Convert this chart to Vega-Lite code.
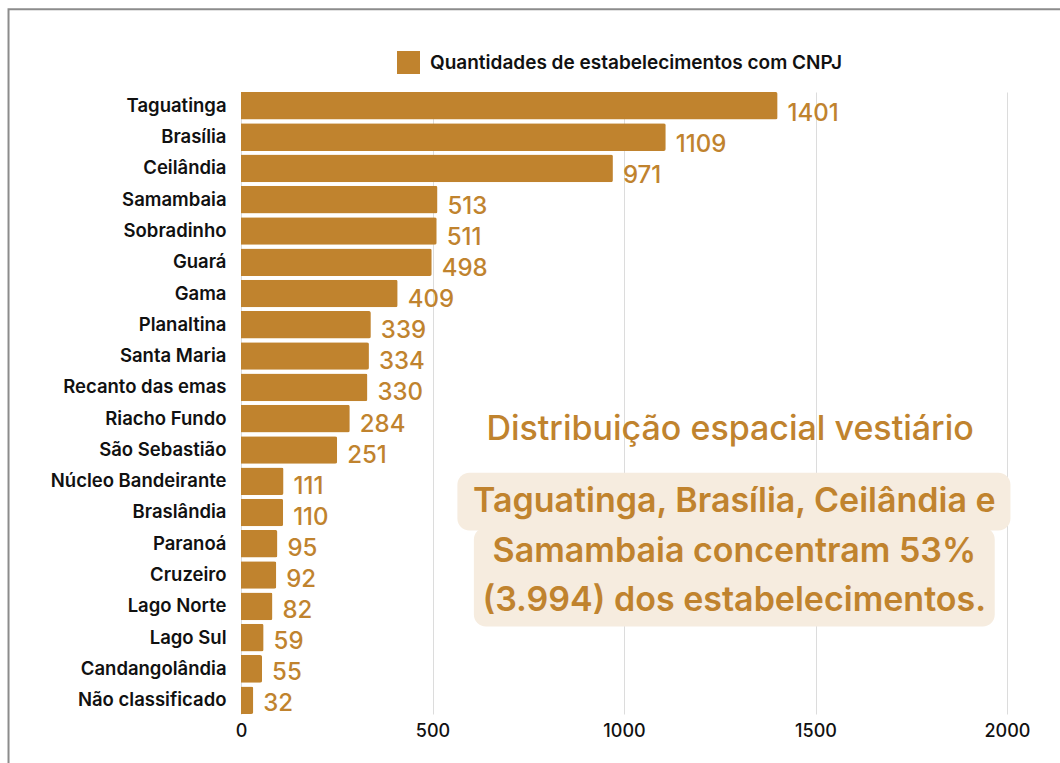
{
  "$schema": "https://vega.github.io/schema/vega-lite/v6.json",
  "width": 766,
  "height": 622,
  "autosize": {"type": "none"},
  "padding": {"left": 241, "top": 92, "right": 53, "bottom": 49},
  "background": "white",
  "config": {
    "view": {"stroke": null},
    "font": "Inter",
    "axisX": {"grid": true, "gridColor": "#dcdcdc", "gridWidth": 1, "domain": false, "ticks": false, "labelFontSize": 18, "labelFontWeight": 500, "labelColor": "#111111", "labelPadding": 8, "labelFlush": false, "tickCount": 5, "format": "d", "title": null},
    "axisY": {"grid": false, "domain": false, "ticks": false, "labelFontSize": 18.5, "labelFontWeight": 600, "labelColor": "#111111", "labelPadding": 15, "labelLimit": 300, "title": null}
  },
  "datasets": {
    "bars": [
      {"regiao": "Taguatinga", "qtd": 1401},
      {"regiao": "Brasília", "qtd": 1109},
      {"regiao": "Ceilândia", "qtd": 971},
      {"regiao": "Samambaia", "qtd": 513},
      {"regiao": "Sobradinho", "qtd": 511},
      {"regiao": "Guará", "qtd": 498},
      {"regiao": "Gama", "qtd": 409},
      {"regiao": "Planaltina", "qtd": 339},
      {"regiao": "Santa Maria", "qtd": 334},
      {"regiao": "Recanto das emas", "qtd": 330},
      {"regiao": "Riacho Fundo", "qtd": 284},
      {"regiao": "São Sebastião", "qtd": 251},
      {"regiao": "Núcleo Bandeirante", "qtd": 111},
      {"regiao": "Braslândia", "qtd": 110},
      {"regiao": "Paranoá", "qtd": 95},
      {"regiao": "Cruzeiro", "qtd": 92},
      {"regiao": "Lago Norte", "qtd": 82},
      {"regiao": "Lago Sul", "qtd": 59},
      {"regiao": "Candangolândia", "qtd": 55},
      {"regiao": "Não classificado", "qtd": 32}
    ],
    "boxes": [
      {"x": 565, "x2": 2009, "y": 12.24, "y2": 14.1},
      {"x": 608, "x2": 1968, "y": 14.0, "y2": 17.19}
    ],
    "titulo": [
      {"x": 1277, "y": 11.19, "texto": "Distribuição espacial vestiário"}
    ],
    "caixa": [
      {"x": 1288, "y": 13.5, "texto": "Taguatinga, Brasília, Ceilândia e"},
      {"x": 1288, "y": 15.1, "texto": "Samambaia concentram 53%"},
      {"x": 1288, "y": 16.68, "texto": "(3.994) dos estabelecimentos."}
    ],
    "frame": [
      {"x": -607, "x2": 3500, "y": -2.66, "y2": 40}
    ]
  },
  "layer": [
    {
      "data": {"name": "bars"},
      "mark": {"type": "bar", "cornerRadiusEnd": 2},
      "encoding": {
        "y": {"field": "regiao", "type": "nominal", "sort": null, "scale": {"paddingInner": 0.118, "paddingOuter": 0}, "title": null},
        "x": {"field": "qtd", "type": "quantitative", "scale": {"domain": [0, 2000], "nice": false}, "title": null},
        "color": {"datum": "Quantidades de estabelecimentos com CNPJ", "type": "nominal", "scale": {"range": ["#C0832E"]},
          "legend": {"title": null, "orient": "none", "legendX": 156, "legendY": -41, "symbolType": "square", "symbolSize": 529, "symbolStrokeWidth": 0, "labelFontSize": 19, "labelFontWeight": 600, "labelColor": "#111111", "labelOffset": 10, "labelLimit": 600, "padding": 0}}
      }
    },
    {
      "data": {"name": "bars"},
      "mark": {"type": "text", "align": "left", "baseline": "alphabetic", "dx": 10, "dy": 13, "fontSize": 24, "fontWeight": 500, "color": "#C0832E"},
      "encoding": {
        "y": {"field": "regiao", "type": "nominal", "sort": null, "scale": {"paddingInner": 0.118, "paddingOuter": 0}, "axis": null},
        "x": {"field": "qtd", "type": "quantitative", "scale": {"domain": [0, 2000], "nice": false}, "title": null},
        "text": {"field": "qtd", "type": "quantitative"}
      }
    },
    {
      "data": {"name": "boxes"},
      "mark": {"type": "rect", "fill": "#F6ECDF", "cornerRadius": 12},
      "encoding": {
        "x": {"field": "x", "type": "quantitative", "scale": {"domain": [0, 2000], "nice": false}, "title": null},
        "x2": {"field": "x2"},
        "y": {"field": "y", "type": "quantitative", "scale": {"domain": [0, 20], "reverse": true, "nice": false, "zero": false}, "axis": null},
        "y2": {"field": "y2"}
      }
    },
    {
      "data": {"name": "titulo"},
      "mark": {"type": "text", "align": "center", "baseline": "alphabetic", "fontSize": 34, "fontWeight": 500, "color": "#C0832E"},
      "encoding": {
        "x": {"field": "x", "type": "quantitative", "scale": {"domain": [0, 2000], "nice": false}, "title": null},
        "y": {"field": "y", "type": "quantitative", "scale": {"domain": [0, 20], "reverse": true, "nice": false, "zero": false}, "axis": null},
        "text": {"field": "texto", "type": "nominal"}
      }
    },
    {
      "data": {"name": "caixa"},
      "mark": {"type": "text", "align": "center", "baseline": "alphabetic", "fontSize": 34, "fontWeight": 600, "color": "#C0832E"},
      "encoding": {
        "x": {"field": "x", "type": "quantitative", "scale": {"domain": [0, 2000], "nice": false}, "title": null},
        "y": {"field": "y", "type": "quantitative", "scale": {"domain": [0, 20], "reverse": true, "nice": false, "zero": false}, "axis": null},
        "text": {"field": "texto", "type": "nominal"}
      }
    },
    {
      "data": {"name": "frame"},
      "mark": {"type": "rect", "fill": null, "stroke": "#8c8c8c", "strokeWidth": 2},
      "encoding": {
        "x": {"field": "x", "type": "quantitative", "scale": {"domain": [0, 2000], "nice": false}, "title": null},
        "x2": {"field": "x2"},
        "y": {"field": "y", "type": "quantitative", "scale": {"domain": [0, 20], "reverse": true, "nice": false, "zero": false}, "axis": null},
        "y2": {"field": "y2"}
      }
    }
  ],
  "resolve": {"scale": {"y": "independent"}}
}
